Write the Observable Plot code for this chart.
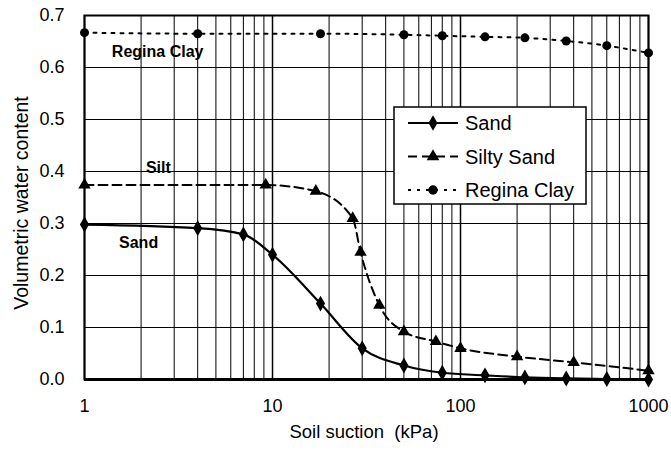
<!DOCTYPE html>
<html>
<head>
<meta charset="utf-8">
<script src="https://cdn.jsdelivr.net/npm/d3@7"></script>
<script src="https://cdn.jsdelivr.net/npm/@observablehq/plot@0.6"></script>
<style>
  html, body { margin: 0; padding: 0; background: white; }
  #wrap { position: relative; width: 671px; height: 450px; font-family: "Liberation Sans", Arial, sans-serif; }
  #legend { position: absolute; left: 393px; top: 106px; }
</style>
</head>
<body>
<div id="wrap"></div>
<script>
// ---- data ----
const seriesNames = ["Sand", "Silty Sand", "Regina Clay"];

const suctionSand = [1, 4, 7, 10, 18, 30, 50, 80, 135, 220, 365, 600, 1000];
const thetaSand   = [0.298, 0.291, 0.279, 0.240, 0.146, 0.060, 0.027, 0.013, 0.008, 0.004, 0.002, 0.001, 0.000];

const suctionSilty = [1, 9.2, 17, 26.7, 29.4, 37, 50, 74, 100, 200, 400, 1000];
const thetaSilty   = [0.374, 0.374, 0.362, 0.310, 0.245, 0.143, 0.092, 0.073, 0.060, 0.044, 0.033, 0.017];

const suctionClay = [1, 4, 18, 50, 80, 135, 220, 365, 600, 1000];
const thetaClay   = [0.667, 0.665, 0.665, 0.663, 0.661, 0.659, 0.657, 0.651, 0.642, 0.628];

const xTickValues = [1, 10, 100, 1000];
const yTickValues = [0, 0.1, 0.2, 0.3, 0.4, 0.5, 0.6, 0.7];

const annoText = ["Regina Clay", "Silt", "Sand"];
const annoX    = [2.45, 2.47, 1.94];
const annoY    = [0.630, 0.407, 0.262];

const xLabel = "Soil suction  (kPa)";
const yLabel = "Volumetric water content";

// ---- tables ----
const rows = (xs, ys) => xs.map((x, i) => ({x, y: ys[i]}));
const sand = rows(suctionSand, thetaSand);
const silty = rows(suctionSilty, thetaSilty);
const clay = rows(suctionClay, thetaClay);
const annos = annoText.map((t, i) => ({t, x: annoX[i], y: annoY[i]}));

const minorGrid = d3.scaleLog().domain([1, 1000]).ticks().filter(v => !xTickValues.includes(v));

const font = "'Liberation Sans', Arial, sans-serif";

const chart = Plot.plot({
  width: 671,
  height: 450,
  marginLeft: 84,
  marginRight: 23,
  marginTop: 15,
  marginBottom: 71,
  style: {fontFamily: font, fontSize: "18px", color: "#000", background: "white", overflow: "visible"},
  x: {type: "log", domain: [1, 1000], ticks: xTickValues, tickFormat: d => String(d), tickSize: 0, tickPadding: 20, label: null},
  y: {domain: [0, 0.7], ticks: yTickValues, tickFormat: d => d.toFixed(1), tickSize: 0, tickPadding: 20, label: null},
  marks: [
    Plot.ruleX(minorGrid, {stroke: "#000", strokeWidth: 1}),
    Plot.ruleX(xTickValues, {stroke: "#000", strokeWidth: 1.5}),
    Plot.ruleY(yTickValues, {stroke: "#000", strokeWidth: 1.2}),
    Plot.ruleY([0], {stroke: "#000", strokeWidth: 3}),
    Plot.frame({stroke: "#000", strokeWidth: 2}),
    Plot.line(clay, {x: "x", y: "y", stroke: "#000", strokeWidth: 2, strokeDasharray: "3,6", curve: "monotone-x"}),
    Plot.line(silty, {x: "x", y: "y", stroke: "#000", strokeWidth: 2, strokeDasharray: "9,5", curve: "monotone-x"}),
    Plot.line(sand, {x: "x", y: "y", stroke: "#000", strokeWidth: 2.2, curve: "monotone-x"}),
    Plot.dot(clay, {x: "x", y: "y", symbol: "circle", fill: "#000", r: 4.5}),
    Plot.dot(silty, {x: "x", y: "y", symbol: "triangle", fill: "#000", r: 4.6}),
    Plot.dot(sand, {x: "x", y: "y", symbol: "diamond", fill: "#000", r: 4.8}),
    Plot.text(annos, {x: "x", y: "y", text: "t", fontSize: 16, fontWeight: "bold", fill: "#000"})
  ]
});

const svg = d3.select(chart);
svg.append("text")
  .attr("x", 364).attr("y", 438)
  .attr("text-anchor", "middle")
  .style("font-size", "18.5px").style("font-family", font).attr("fill", "#000")
  .text(xLabel);
svg.append("text")
  .attr("transform", "translate(28,203) rotate(-90)")
  .attr("text-anchor", "middle")
  .style("font-size", "19.5px").style("font-family", font).attr("fill", "#000")
  .text(yLabel);

document.getElementById("wrap").appendChild(chart);

// ---- legend box ----
const lg = d3.create("svg").attr("id", "legend").attr("width", 194).attr("height", 99);
lg.append("rect").attr("x", 1).attr("y", 1).attr("width", 192).attr("height", 97)
  .attr("fill", "white").attr("stroke", "#000").attr("stroke-width", 1.5);
const dashes = [null, "9,5", "3,6"];
const syms = [d3.symbolDiamond, d3.symbolTriangle, d3.symbolCircle];
seriesNames.forEach((name, i) => {
  const cy = 17 + i * 33.5;
  lg.append("line").attr("x1", 15).attr("x2", 65).attr("y1", cy).attr("y2", cy)
    .attr("stroke", "#000").attr("stroke-width", 2)
    .attr("stroke-dasharray", dashes[i]);
  lg.append("path").attr("d", d3.symbol(syms[i], 70)())
    .attr("transform", `translate(40,${cy})`).attr("fill", "#000");
  lg.append("text").attr("x", 72).attr("y", cy + 7)
    .style("font-size", "20px").style("font-family", font).attr("fill", "#000")
    .text(name);
});
document.getElementById("wrap").appendChild(lg.node());
</script>
</body>
</html>
